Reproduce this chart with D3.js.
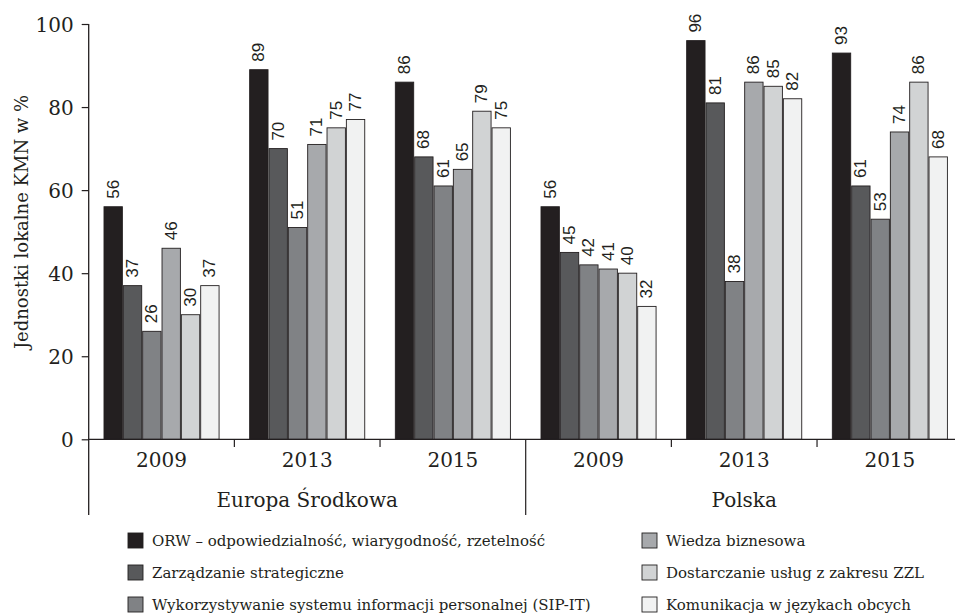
<!DOCTYPE html>
<html>
<head>
<meta charset="utf-8">
<script src="https://cdn.jsdelivr.net/npm/d3@7"></script>
<style>
  html, body { margin: 0; padding: 0; background: #fff; }
  svg { display: block; }
  .serif { font-family: "DejaVu Serif", serif; fill: #231f20; }
  .val { font-family: "Liberation Sans Narrow", "Liberation Sans", sans-serif; fill: #231f20; }
</style>
</head>
<body>
<svg id="chart" width="955" height="616"></svg>
<script>
// Regions and survey years
const regions = ["Europa Środkowa", "Polska"];
const years = ["2009", "2013", "2015"];

// Competence series (legend order)
const series = [
  "ORW – odpowiedzialność, wiarygodność, rzetelność",
  "Zarządzanie strategiczne",
  "Wykorzystywanie systemu informacji personalnej (SIP-IT)",
  "Wiedza biznesowa",
  "Dostarczanie usług z zakresu ZZL",
  "Komunikacja w językach obcych"
];

// Values (%) per region/year, in series order
const europaValues = [
  [56, 37, 26, 46, 30, 37],
  [89, 70, 51, 71, 75, 77],
  [86, 68, 61, 65, 79, 75]
];
const polskaValues = [
  [56, 45, 42, 41, 40, 32],
  [96, 81, 38, 86, 85, 82],
  [93, 61, 53, 74, 86, 68]
];

const yTicks = [0, 20, 40, 60, 80, 100];
const yTitle = "Jednostki lokalne KMN w %";
const colors = ["#231f20", "#58595b", "#808285", "#a7a9ac", "#d1d3d4", "#f1f2f2"];

// Flattened group list: region × year
const groups = [];
[europaValues, polskaValues].forEach((vals, r) => {
  years.forEach((yr, i) => groups.push({ id: r + "-" + yr, region: regions[r], year: yr, values: vals[i] }));
});

const svg = d3.select("#chart");
const plotLeft = 88.7, plotRight = 962.7, plotBase = 439.3, plotTop = 24;

const x0 = d3.scaleBand().domain(groups.map(g => g.id)).range([plotLeft, plotRight]).paddingInner(0).paddingOuter(0);
const gw = x0.bandwidth();
const x1 = d3.scaleBand().domain(d3.range(series.length)).range([gw * 0.105, gw * 0.895]).paddingInner(0.05).paddingOuter(0);
const y = d3.scaleLinear().domain([0, 100]).range([plotBase, plotTop]);

// Bars and value labels
const g = svg.append("g");
const grp = g.selectAll("g.grp").data(groups).join("g")
  .attr("class", "grp")
  .attr("transform", d => `translate(${x0(d.id)},0)`);

grp.selectAll("rect").data(d => d.values).join("rect")
  .attr("x", (v, i) => x1(i))
  .attr("y", v => y(v))
  .attr("width", x1.bandwidth())
  .attr("height", v => y(0) - y(v))
  .attr("fill", (v, i) => colors[i])
  .attr("stroke", "#231f20")
  .attr("stroke-width", 0.9);

grp.selectAll("text.val").data(d => d.values).join("text")
  .attr("class", "val")
  .attr("transform", (v, i) => `translate(${x1(i) + x1.bandwidth() / 2 - 0.5},${y(v) - 8}) rotate(-90)`)
  .attr("dy", "0.35em")
  .attr("font-size", 17)
  .text(v => v);

// Y axis
const yAxis = d3.axisLeft(y).tickValues(yTicks).tickSize(7).tickPadding(8).tickSizeOuter(0);
const ya = svg.append("g").attr("transform", `translate(${plotLeft},0)`).call(yAxis);
ya.select(".domain").remove();
ya.selectAll(".tick line").attr("stroke", "#231f20").attr("stroke-width", 1.2);
ya.selectAll(".tick text").attr("class", "serif").attr("font-size", 20).attr("dy", "0.36em");

// Axis lines
const lineColor = "#231f20";
svg.append("line").attr("x1", plotLeft).attr("x2", plotLeft).attr("y1", y(100)).attr("y2", 515)
  .attr("stroke", lineColor).attr("stroke-width", 1.3);
svg.append("line").attr("x1", plotLeft).attr("x2", plotRight).attr("y1", plotBase).attr("y2", plotBase)
  .attr("stroke", lineColor).attr("stroke-width", 1.3);

// Year separators and region separators
groups.forEach((d, i) => {
  if (i === 0) return;
  const xx = x0(d.id);
  const isRegion = i % years.length === 0;
  svg.append("line").attr("x1", xx).attr("x2", xx).attr("y1", plotBase).attr("y2", isRegion ? 515 : 447)
    .attr("stroke", lineColor).attr("stroke-width", 1.2);
});
svg.append("line").attr("x1", plotRight).attr("x2", plotRight).attr("y1", plotBase).attr("y2", 515)
  .attr("stroke", lineColor).attr("stroke-width", 1.2);

// Year labels
svg.selectAll("text.year").data(groups).join("text")
  .attr("class", "serif")
  .attr("x", d => x0(d.id) + gw / 2)
  .attr("y", 467)
  .attr("text-anchor", "middle")
  .attr("font-size", 20)
  .text(d => d.year);

// Region labels
regions.forEach((r) => {
  const gs = groups.filter(gr => gr.region === r);
  const xa = x0(gs[0].id), xb = x0(gs[gs.length - 1].id) + gw;
  svg.append("text").attr("class", "serif")
    .attr("x", (xa + xb) / 2).attr("y", 507)
    .attr("text-anchor", "middle").attr("font-size", 20)
    .text(r);
});

// Y axis title
svg.append("text").attr("class", "serif")
  .attr("transform", `translate(28,222) rotate(-90)`)
  .attr("text-anchor", "middle")
  .attr("font-size", 18)
  .text(yTitle);

// Legend: two columns of three
const legCols = [128, 642], legRows = [546, 578, 610];
series.forEach((s, i) => {
  const cx = legCols[Math.floor(i / 3)], cy = legRows[i % 3];
  svg.append("rect").attr("x", cx).attr("y", cy - 13).attr("width", 15).attr("height", 15)
    .attr("fill", colors[i]).attr("stroke", "#231f20").attr("stroke-width", 0.9);
  svg.append("text").attr("class", "serif").attr("x", cx + 24).attr("y", cy)
    .attr("font-size", 15).text(s);
});
</script>
</body>
</html>
